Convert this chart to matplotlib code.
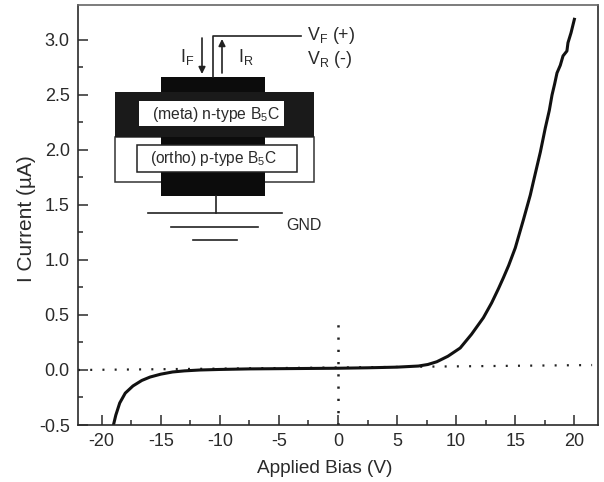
import matplotlib
matplotlib.use("Agg")
from matplotlib import pyplot as plt
from matplotlib.patches import Rectangle

plt.rcParams['font.family'] = ['Liberation Sans', 'DejaVu Sans']
plt.rcParams['mathtext.fontset'] = 'custom'
plt.rcParams['mathtext.rm'] = 'Liberation Sans'
plt.rcParams['mathtext.default'] = 'rm'

bias = [-19.0, -18.8, -18.47, -18.0, -17.35, -16.6, -15.9, -15.0, -14.0, -13.0, -11.7, -10.0, -7.5, -5.0, -2.5, 0.0,
        2.5, 5.0, 6.8, 7.6, 8.36, 9.3, 10.34, 11.3, 12.3, 13.0, 13.58, 14.0, 14.44, 15.0, 15.7, 16.27, 16.55, 16.9,
        17.12, 17.35, 17.54, 17.88, 18.11, 18.33, 18.53, 18.81, 19.04, 19.37, 19.46, 19.72, 20.0]
current = [-0.5, -0.41, -0.30, -0.21, -0.145, -0.095, -0.064, -0.038, -0.018, -0.008, 0.0, 0.005, 0.01, 0.012, 0.014,
           0.016, 0.02, 0.026, 0.036, 0.05, 0.075, 0.125, 0.20, 0.325, 0.475, 0.61, 0.74, 0.84, 0.95, 1.11, 1.37, 1.59,
           1.72, 1.88, 1.98, 2.10, 2.20, 2.36, 2.50, 2.60, 2.70, 2.77, 2.855, 2.90, 2.975, 3.066, 3.188]

x_ticks = [-20, -15, -10, -5, 0, 5, 10, 15, 20]
x_minor = [-17.5, -12.5, -7.5, -2.5, 2.5, 7.5, 12.5, 17.5]
y_ticks = [-0.5, 0.0, 0.5, 1.0, 1.5, 2.0, 2.5, 3.0]
y_minor = [-0.25, 0.25, 0.75, 1.25, 1.75, 2.25, 2.75]
zero_x = [-22, 21.5]
zero_y = [0.0, 0.045]
vert_x = [0, 0]
vert_y = [-0.5, 0.43]

INK = '#2a2a2a'
W, H = 604, 482

fig = plt.figure(figsize=(W / 100, H / 100), dpi=100)
ax = fig.add_axes([78 / W, 1 - 425 / H, 520 / W, 420 / H])
ax.plot(zero_x, zero_y, color='#222222', lw=1.6, dashes=(0.9, 4.6))
ax.plot(vert_x, vert_y, color='#222222', lw=1.8, dashes=(0.9, 4.0))
ax.plot(bias, current, color='#111111', lw=2.2)
ax.set_xlim(-22, 22)
ax.set_ylim(-0.5, 3.318)
ax.set_xticks(x_ticks)
ax.set_xticks(x_minor, minor=True)
ax.set_yticks(y_ticks)
ax.set_xticklabels([str(v) for v in x_ticks])
ax.set_yticks(y_minor, minor=True)
ax.set_yticklabels(['%.1f' % v for v in y_ticks])
ax.tick_params(which='major', direction='in', length=7, width=1.1, labelsize=13, colors=INK, pad=6)
ax.tick_params(which='minor', direction='in', length=3.5, width=1.1, colors=INK)
for spine in ax.spines.values():
    spine.set_linewidth(1.2)
    spine.set_color(INK)
ax.spines['top'].set_color('#666666')
ax.set_xlabel('Applied Bias (V)', fontsize=13.7, color=INK)
ax.xaxis.set_label_coords((325 - 78) / 520, -35 / 420)
ax.set_ylabel('I Current (\u00b5A)', fontsize=15, color=INK)
ax.yaxis.set_label_coords((36 - 78) / 520, (425 - 219) / 420)

# device sketch, in picture pixels
sk = fig.add_axes([0, 0, 1, 1], facecolor='none')
sk.set_xlim(0, W)
sk.set_ylim(H, 0)
sk.axis('off')


def box(x0, y0, x1, y1, face, edge='none'):
    """Add one block of the sketch"""
    sk.add_patch(Rectangle((x0, y0), x1 - x0, y1 - y0, facecolor=face, edgecolor=edge, lw=1.1))


box(115, 137, 314, 182, 'white', '#333333')
box(115, 92, 314, 137, '#1a1a1a')
box(161, 77, 265, 92, '#0c0c0c')
box(161, 137, 265, 196, '#0c0c0c')
box(139, 101, 284, 126, 'white')
box(137, 145, 297, 172, 'white', '#222222')

for xs, ys in [([216, 216], [196, 213]), ([148, 282], [213, 213]), ([171, 258], [227, 227]), ([193, 237], [240, 240]),
               ([213, 213, 301], [77, 36, 36])]:
    sk.plot(xs, ys, color='#222222', lw=1.2)
sk.annotate('', xy=(202, 74), xytext=(202, 38), arrowprops=dict(arrowstyle='-|>', color='#222222', lw=1.2, shrinkA=0, shrinkB=0))
sk.annotate('', xy=(222, 39), xytext=(222, 73), arrowprops=dict(arrowstyle='-|>', color='#222222', lw=1.2, shrinkA=0, shrinkB=0))

sk.text(216, 114, '(meta) n-type B$_5$C', ha='center', va='center', fontsize=11.3, color=INK)
sk.text(213, 159, '(ortho) p-type B$_5$C', ha='center', va='center', fontsize=11.2, color=INK)
sk.text(180, 57, 'I$_F$', ha='left', va='center', fontsize=13, color=INK)
sk.text(238, 57, 'I$_R$', ha='left', va='center', fontsize=13, color=INK)
sk.text(307, 36, 'V$_F$ (+)', ha='left', va='center', fontsize=12.8, color=INK)
sk.text(307, 59, 'V$_R$ (-)', ha='left', va='center', fontsize=12.8, color=INK)
sk.text(286, 225, 'GND', ha='left', va='center', fontsize=11.5, color=INK)

fig.savefig('out.png', dpi=100)
